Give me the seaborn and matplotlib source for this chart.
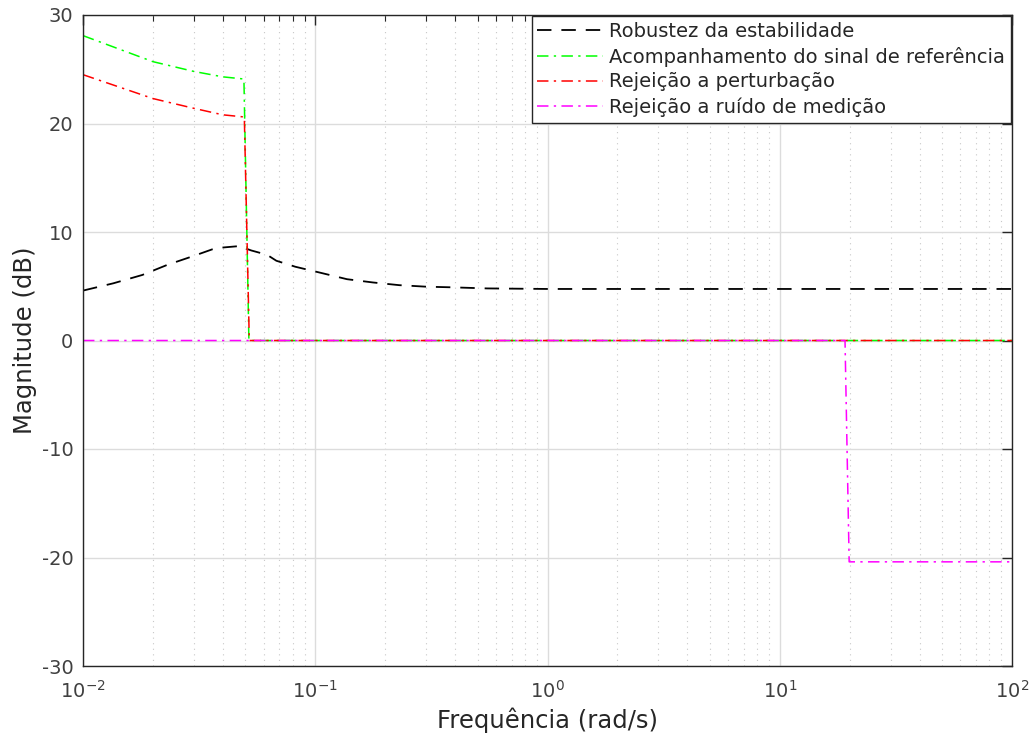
import numpy as np
import pandas as pd
import matplotlib
matplotlib.use("Agg")
import matplotlib.pyplot as plt
import seaborn as sns
from matplotlib.ticker import LogLocator, NullFormatter, MultipleLocator

# ---- data ----
freq_rob = [0.01, 0.0135, 0.018, 0.023, 0.030, 0.036, 0.039, 0.047, 0.053, 0.062,
            0.068, 0.082, 0.105, 0.137, 0.177, 0.23, 0.30, 0.39, 0.55, 1.0, 10.0, 100.0]
mag_rob = [4.6, 5.27, 6.04, 6.96, 7.8, 8.4, 8.55, 8.7, 8.3, 7.9,
           7.35, 6.8, 6.25, 5.65, 5.35, 5.1, 4.96, 4.9, 4.8, 4.75, 4.75, 4.75]

freq_ref = [0.01, 0.02, 0.03, 0.04, 0.0493, 0.0518, 1.0, 100.0]
mag_ref = [28.1, 25.7, 24.8, 24.3, 24.1, 0.0, 0.0, 0.0]

freq_dist = [0.01, 0.02, 0.03, 0.04, 0.0495, 0.052, 1.0, 100.0]
mag_dist = [24.5, 22.3, 21.4, 20.8, 20.6, 0.0, 0.0, 0.0]

freq_noise = [0.01, 1.0, 19.1, 19.9, 100.0]
mag_noise = [0.0, 0.0, 0.0, -20.4, -20.4]

labels = ["Robustez da estabilidade", "Acompanhamento do sinal de referência",
          "Rejeição a perturbação", "Rejeição a ruído de medição"]

sns.set_theme(style="white")
plt.rcParams["font.family"] = ["DejaVu Sans"]
plt.rcParams["axes.unicode_minus"] = False

fig = plt.figure(figsize=(10.33, 7.40), dpi=100)
ax = fig.add_axes([83/1033, 1-666/740, (1012-83)/1033, (666-15)/740])

dashdot = (0, (7.5, 3.5, 1.5, 3.5))
sns.lineplot(x=freq_rob, y=mag_rob, ax=ax, color="black", linewidth=1.3,
             linestyle=(0, (8, 5.5)), estimator=None, sort=False, label=labels[0])
sns.lineplot(x=freq_ref, y=mag_ref, ax=ax, color="#00ff00", linewidth=1.1,
             linestyle=dashdot, estimator=None, sort=False, label=labels[1])
sns.lineplot(x=freq_dist, y=mag_dist, ax=ax, color="#ff0000", linewidth=1.1,
             linestyle=dashdot, estimator=None, sort=False, label=labels[2])
sns.lineplot(x=freq_noise, y=mag_noise, ax=ax, color="#ff00ff", linewidth=1.1,
             linestyle=dashdot, estimator=None, sort=False, label=labels[3])

ax.set_xscale("log")
ax.set_xlim(1e-2, 1e2)
ax.set_ylim(-30, 30)
ax.yaxis.set_major_locator(MultipleLocator(10))
ax.xaxis.set_major_locator(LogLocator(base=10, numticks=10))
ax.xaxis.set_minor_locator(LogLocator(base=10, subs=np.arange(2, 10), numticks=20))
ax.xaxis.set_minor_formatter(NullFormatter())

ax.grid(True, which="major", color="#dcdcdc", linewidth=1.0, linestyle="-")
ax.grid(True, which="minor", axis="x", color="#c8c8c8", linewidth=0.8, linestyle=(0, (1, 4)))
ax.set_axisbelow(True)

for s in ax.spines.values():
    s.set_color("#262626")
    s.set_linewidth(1.0)

ax.tick_params(which="both", direction="in", top=True, right=True,
               colors="#262626", labelcolor="#404040")
ax.tick_params(which="major", length=7, width=1.0, labelsize=14)
ax.tick_params(which="minor", length=4, width=0.8)
ax.tick_params(axis="x", which="major", pad=10)
ax.tick_params(axis="y", which="major", pad=7)

ax.set_xlabel("Frequência (rad/s)", fontsize=17.5, color="#262626", labelpad=4)
ax.set_ylabel("Magnitude (dB)", fontsize=17.5, color="#262626", labelpad=3)

leg = ax.legend(loc="upper right", fontsize=14, frameon=True, fancybox=False,
                edgecolor="#262626", framealpha=1.0, borderaxespad=0.05,
                handlelength=3.4, handletextpad=0.3, labelspacing=0.3,
                borderpad=0.3)
leg.get_frame().set_linewidth(1.0)
for t in leg.get_texts():
    t.set_color("#262626")

fig.savefig("out.png", dpi=100)
